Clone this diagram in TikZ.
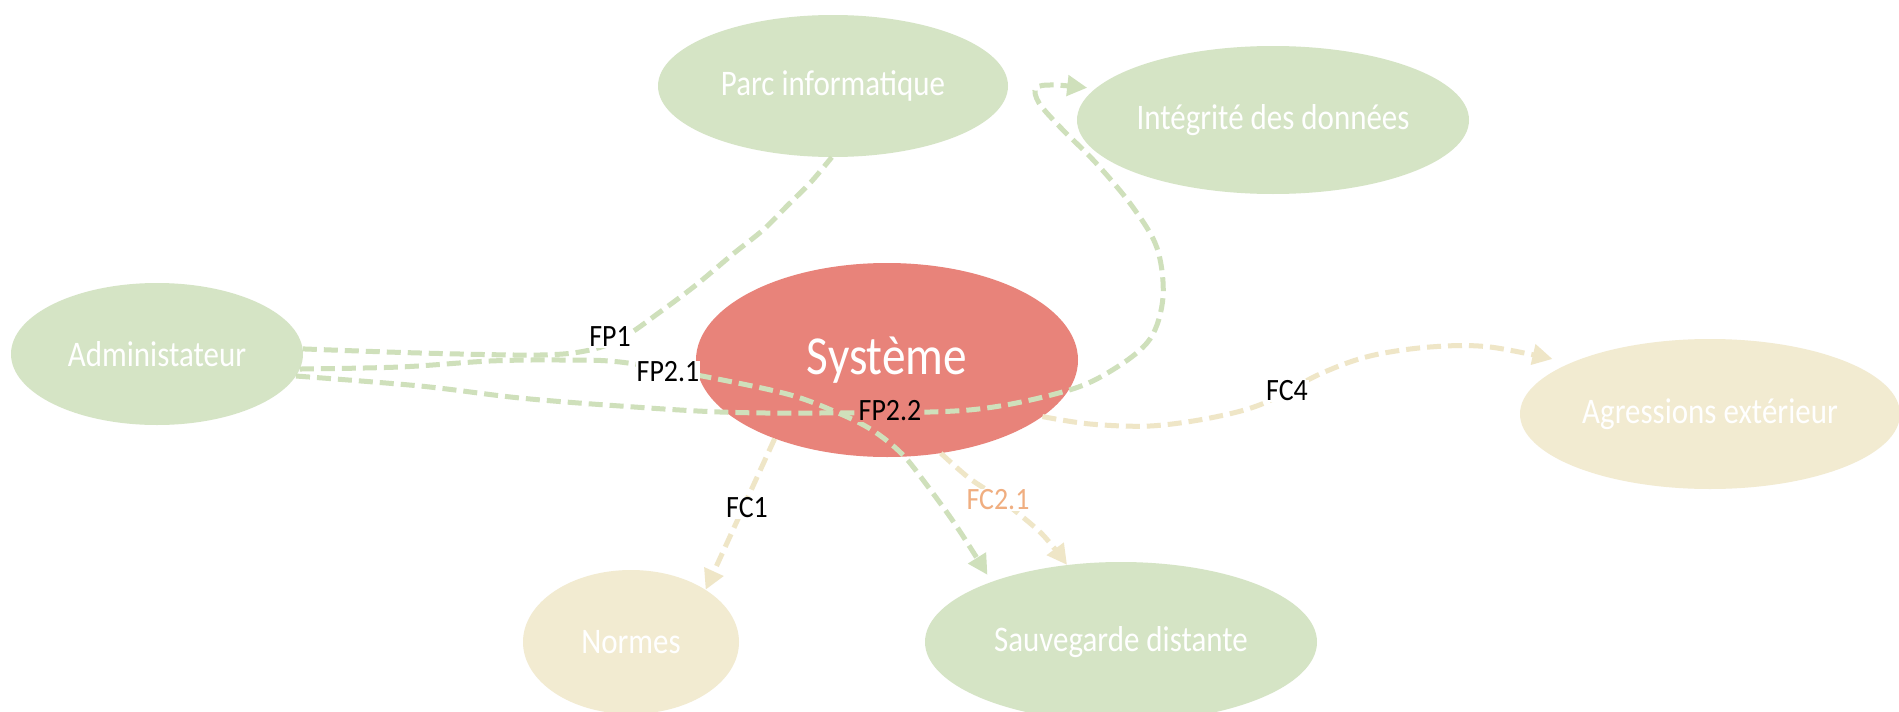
\documentclass[tikz,border=0pt]{standalone}
\usepackage{fontspec}
\setmainfont{Carlito}
\newfontfamily\bubblefont[FakeStretch=0.86]{Carlito}
\newfontfamily\tagfont[FakeStretch=0.9]{Carlito}
\usetikzlibrary{shapes.geometric,arrows.meta}

\definecolor{leaf}{HTML}{D5E4C5}
\definecolor{leafline}{HTML}{CFE0BB}
\definecolor{sand}{HTML}{F2EBD1}
\definecolor{sandline}{HTML}{EFE6C7}
\definecolor{coral}{HTML}{E8837A}
\definecolor{peach}{HTML}{F0AE80}

\tikzset{
  bubble/.style={ellipse, inner sep=0pt, text=white, font=\bubblefont\fontsize{36}{40}\selectfont},
  leafbubble/.style={bubble, fill=leaf},
  sandbubble/.style={bubble, fill=sand},
  link/.style={line width=5pt, dash pattern=on 14pt off 7pt},
  fplink/.style={link, draw=leafline},
  fclink/.style={link, draw=sandline},
  arrowend/.style={-{Triangle[length=20pt,width=20pt]}},
  tag/.style={inner sep=1pt, font=\tagfont\fontsize{31}{34}\selectfont, text=black},
}

\begin{document}
\begin{tikzpicture}[x=1pt, y=-1pt]
  \fill[white] (0,0) rectangle (1899,712);
  \useasboundingbox (0,0) rectangle (1899,712);

  % actors around the system
  \node[leafbubble, minimum width=350pt, minimum height=142pt] (parc) at (833,86) {Parc informatique};
  \node[leafbubble, minimum width=392pt, minimum height=148pt] (integ) at (1273,120) {Intégrité des données};
  \node[leafbubble, minimum width=292pt, minimum height=142pt] (admin) at (157,354) {Administateur};
  \node[ellipse, inner sep=0pt, fill=coral, text=white, minimum width=382pt, minimum height=194pt,
        font=\bubblefont\fontsize{55}{60}\selectfont] (sys) at (887,360) {Système};
  \node[sandbubble, minimum width=380pt, minimum height=150pt] (agress) at (1710,414) {Agressions extérieur};
  \node[sandbubble, minimum width=216pt, minimum height=144pt] (normes) at (631,642) {Normes};
  \node[leafbubble, minimum width=392pt, minimum height=160pt] (sauv) at (1121,642) {Sauvegarde distante};

  % main functions
  \draw[fplink] plot[smooth, tension=0.55] coordinates {(admin.2) (420,353) (540,355) (590,350) (624,337)
        (660,312) (696,285) (733,254) (763,230) (787,206) (811,182) (parc.-91)};
  \draw[fplink, arrowend, shorten >=8pt] plot[smooth, tension=0.55] coordinates {(admin.-6) (400,367) (490,361)
        (560,360) (620,362) (702,376) (787,394) (836,412) (872,430) (902,454) (926,484) (957,527) (sauv.155)};
  \draw[fplink, arrowend, shorten >=8pt] plot[smooth, tension=0.55] coordinates {(admin.-9) (420,386) (520,398)
        (620,406) (720,412) (820,413) (969,410) (1066,391) (1114,369) (1150,339) (1163,297) (1157,248)
        (1132,206) (1096,163) (1060,127) (1039,103) (1036,88) (1054,85) (integ.170)};

  % constraint functions
  \draw[fclink, arrowend, shorten >=18pt] plot[smooth, tension=0.55] coordinates {(sys.-20) (1090,424)
        (1150,426) (1210,418) (1262,404) (1320,374) (1370,356) (1430,347) (1490,347) (agress.160)};
  \draw[fclink, arrowend] (sys.215) -- (normes.35);
  \draw[fclink, arrowend] plot[smooth, tension=0.5] coordinates {(sys.-60) (969,478) (1000,499) (1041,533) (sauv.125)};

  % function labels
  \node[tag, fill=white] (fp1) at (610,337) {FP1};
  \node[tag, fill=white] (fp21) at (668,372) {FP2.1};
  \node[tag, fill=coral] (fp22) at (890,411) {FP2.2};
  \node[tag, fill=white] (fc4) at (1287,391) {FC4};
  \node[tag, fill=white] (fc1) at (747,508) {FC1};
  \node[tag, fill=white, text=peach] (fc21) at (998,500) {FC2.1};
\end{tikzpicture}
\end{document}
